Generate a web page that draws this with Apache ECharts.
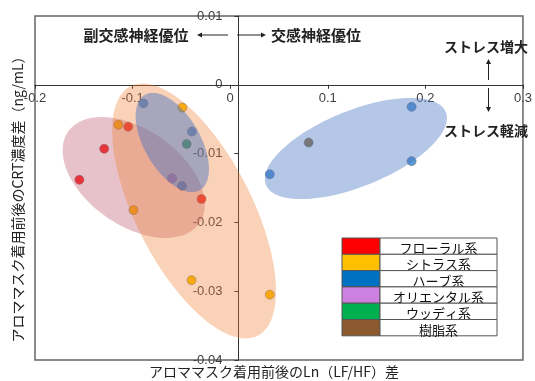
<!DOCTYPE html>
<html>
<head>
<meta charset="utf-8">
<script src="https://cdn.jsdelivr.net/npm/echarts@6/dist/echarts.min.js"></script>
<style>
  html, body { margin: 0; padding: 0; background: #ffffff; }
  #chart { width: 535px; height: 381px; }
</style>
</head>
<body>
<div id="chart"></div>
<script>
// Aroma categories shown in the legend table
const categories = ['フローラル系', 'シトラス系', 'ハーブ系', 'オリエンタル系', 'ウッディ系', '樹脂系'];

// Each point: [Ln(LF/HF) difference, CRT concentration difference (ng/mL)]
const floral   = [[-0.1045, -0.0061], [-0.1291, -0.0093], [-0.1545, -0.0138], [-0.0294, -0.0166]];
const citrus   = [[-0.0490, -0.0033], [-0.1146, -0.0058], [-0.0991, -0.0182], [-0.0396, -0.0284], [0.0406, -0.0305]];
const herb     = [[-0.0889, -0.0027], [-0.0392, -0.0068], [-0.0494, -0.0147], [0.1859, -0.0032], [0.1859, -0.0111], [0.0406, -0.0130]];
const oriental = [[-0.0595, -0.0136]];
const woody    = [[-0.0446, -0.0086]];
const resin    = [[0.0804, -0.0084]];

// Axis ranges and tick steps
const xTicks = [-0.2, -0.1, 0, 0.1, 0.2, 0.3];
const yTicks = [0.01, 0, -0.01, -0.02, -0.03, -0.04];

// Group outlines: centre in data units, semi-axes in px, rotation in degrees
const groupCentres = [[-0.0989, -0.01347], [-0.037, -0.01834], [-0.0593, -0.00839], [0.1288, -0.00926]];
const groupShapes = [
  { a: 80,  b: 48, rot: 35,  fill: 'rgba(185,70,95,0.33)' },
  { a: 140, b: 58, rot: 63,  fill: 'rgba(237,125,49,0.35)' },
  { a: 55,  b: 28, rot: 60,  fill: 'rgba(68,114,196,0.45)' },
  { a: 97,  b: 38, rot: -22, fill: 'rgba(68,114,196,0.40)' }
];

const seriesData   = [floral, citrus, herb, oriental, woody, resin];
const pointColors  = ['#ff2a2a', '#ffc000', '#5b9bd5', '#c58be0', '#1faa5a', '#9c7a4a'];
const legendColors = ['#ff0000', '#ffc000', '#0070c0', '#cc80e0', '#00b050', '#8c5a2e'];

const CJK = '"Noto Sans CJK JP", "Noto Sans", sans-serif';
const NUM = '"Liberation Sans", "DejaVu Sans", sans-serif';

const chart = echarts.init(document.getElementById('chart'), null, { renderer: 'canvas' });

function renderEllipse(params, api) {
  const s = groupShapes[params.dataIndex];
  const c = api.coord([api.value(0), api.value(1)]);
  const r = s.rot * Math.PI / 180;
  const pts = [];
  for (let i = 0; i < 120; i++) {
    const t = i / 120 * Math.PI * 2;
    const ex = s.a * Math.cos(t), ey = s.b * Math.sin(t);
    pts.push([c[0] + ex * Math.cos(r) - ey * Math.sin(r), c[1] + ex * Math.sin(r) + ey * Math.cos(r)]);
  }
  return { type: 'polygon', shape: { points: pts }, style: { fill: s.fill } };
}

// Legend table built from the category list
const rowH = 16.3, tLeft = 342, tTop = 238, swW = 38, tW = 155;
const legendEls = [];
categories.forEach((name, i) => {
  const y = tTop + i * rowH;
  legendEls.push({ type: 'rect', shape: { x: tLeft, y: y, width: swW, height: rowH },
    style: { fill: legendColors[i], stroke: '#555', lineWidth: 1 } });
  legendEls.push({ type: 'rect', shape: { x: tLeft + swW, y: y, width: tW - swW, height: rowH },
    style: { fill: '#fff', stroke: '#555', lineWidth: 1 } });
  legendEls.push({ type: 'text', x: tLeft + swW + (tW - swW) / 2, y: y + rowH / 2 + 2,
    style: { text: name, fill: '#111', font: '13px ' + CJK, align: 'center', verticalAlign: 'middle' } });
});

function arrow(x1, y1, x2, y2) {
  const ang = Math.atan2(y2 - y1, x2 - x1), L = 5, W = 2.5;
  const bx = x2 - L * Math.cos(ang), by = y2 - L * Math.sin(ang);
  return [
    { type: 'line', shape: { x1: x1, y1: y1, x2: bx, y2: by }, style: { stroke: '#222', lineWidth: 1 } },
    { type: 'polygon', shape: { points: [[x2, y2],
        [bx - W * Math.sin(ang), by + W * Math.cos(ang)],
        [bx + W * Math.sin(ang), by - W * Math.cos(ang)]] }, style: { fill: '#222' } }
  ];
}

const annotEls = [
  { type: 'text', x: 136, y: 35, style: { text: '副交感神経優位', font: 'bold 15px ' + CJK, fill: '#222', align: 'center', verticalAlign: 'middle' } },
  { type: 'text', x: 316, y: 35, style: { text: '交感神経優位', font: 'bold 15px ' + CJK, fill: '#222', align: 'center', verticalAlign: 'middle' } },
  { type: 'text', x: 486, y: 47, style: { text: 'ストレス増大', font: 'bold 14px ' + CJK, fill: '#222', align: 'center', verticalAlign: 'middle' } },
  { type: 'text', x: 486, y: 131, style: { text: 'ストレス軽減', font: 'bold 14px ' + CJK, fill: '#222', align: 'center', verticalAlign: 'middle' } },
  ...arrow(228, 35, 197, 35),
  ...arrow(237, 35, 266, 35),
  ...arrow(488.5, 80, 488.5, 59),
  ...arrow(488.5, 88, 488.5, 112),
  { type: 'text', x: 274, y: 372, style: { text: 'アロママスク着用前後のLn（LF/HF）差', font: '14px ' + CJK, fill: '#222', align: 'center', verticalAlign: 'middle' } },
  { type: 'text', x: 18, y: 196, rotation: Math.PI / 2, style: { text: 'アロママスク着用前後のCRT濃度差（ng/mL）', font: '14px ' + CJK, fill: '#222', align: 'center', verticalAlign: 'middle' } }
];

const GRID = { left: 35, right: 7, top: 16, bottom: 21 };

const option = {
  animation: false,
  grid: Object.assign({ show: true, borderColor: '#666', borderWidth: 1.5, backgroundColor: 'transparent' }, GRID),
  xAxis: {
    type: 'value', min: xTicks[0], max: xTicks[xTicks.length - 1], interval: 0.1,
    position: 'bottom', offset: 0,
    axisLine: { onZero: false, lineStyle: { color: '#333', width: 1 } },
    axisTick: { show: true, length: 4, lineStyle: { color: '#333' } },
    axisLabel: { color: '#404040', fontSize: 13, fontFamily: NUM, margin: 7, showMinLabel: true, showMaxLabel: true,
      formatter: v => String(Math.round(v * 10) / 10) },
    splitLine: { show: false }
  },
  yAxis: {
    type: 'value', min: yTicks[yTicks.length - 1], max: yTicks[0], interval: 0.01,
    position: 'left', offset: 0,
    axisLine: { onZero: false, lineStyle: { color: '#333', width: 1 } },
    axisTick: { show: true, length: 4, lineStyle: { color: '#333' } },
    axisLabel: { color: '#404040', fontSize: 13, fontFamily: NUM, margin: 16, showMinLabel: true, showMaxLabel: true,
      formatter: v => String(Math.round(v * 100) / 100) },
    splitLine: { show: false }
  },
  series: [
    ...seriesData.map((d, i) => ({
      name: categories[i], type: 'scatter', data: d, symbolSize: 9, z: 2,
      itemStyle: { color: pointColors[i], borderColor: 'rgba(110,110,110,0.7)', borderWidth: 0.8, opacity: 1 }
    })),
    { type: 'custom', data: groupCentres, renderItem: renderEllipse, z: 3, silent: true, clip: false }
  ],
  graphic: { elements: [...legendEls, ...annotEls].map(e => Object.assign({ z: 100 }, e)) }
};

chart.setOption(option);

// Move both axes (line, ticks and labels) so they cross at the origin
const origin = chart.convertToPixel({ gridIndex: 0 }, [0, 0]);
const W = chart.getWidth(), H = chart.getHeight();
chart.setOption({
  xAxis: { offset: origin[1] - (H - GRID.bottom) },
  yAxis: { offset: GRID.left - origin[0] }
});
</script>
</body>
</html>
